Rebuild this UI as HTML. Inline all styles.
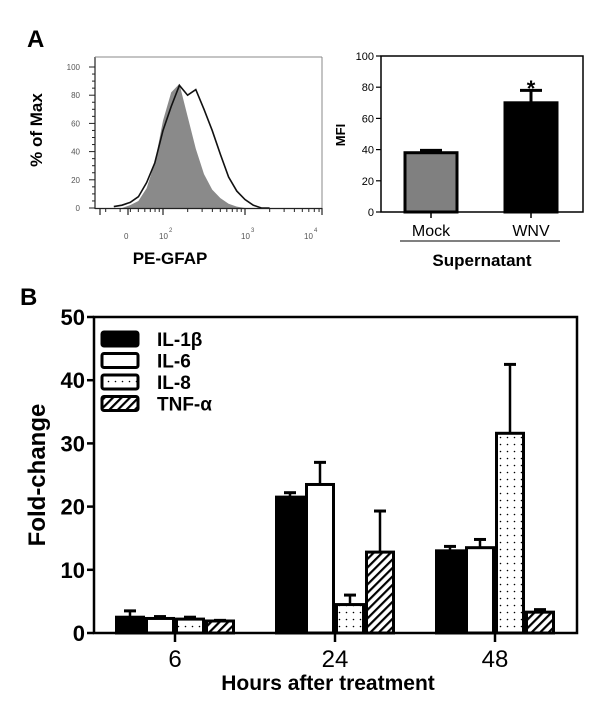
<!DOCTYPE html>
<html><head><meta charset="utf-8"><style>
html,body{margin:0;padding:0;background:#fff}
svg{display:block;font-family:"Liberation Sans",sans-serif}
</style></head><body>
<svg id="fig" width="600" height="720" viewBox="0 0 600 720">
<defs>
<pattern id="dots" width="7" height="7" patternUnits="userSpaceOnUse"><rect width="7" height="7" fill="#fff"/><circle cx="3.5" cy="3.5" r="0.8" fill="#000"/></pattern>
<pattern id="hatch" width="6" height="6" patternUnits="userSpaceOnUse" patternTransform="rotate(45)"><rect width="6" height="6" fill="#fff"/><rect width="2.2" height="6" fill="#000"/></pattern>
</defs>
<text x="27" y="47" font-size="24" font-weight="bold">A</text>
<text x="20" y="305" font-size="24" font-weight="bold">B</text>
<g id="hist"></g>
<g id="mfi"></g>
<g id="fold"></g>
</svg>
<script>
// ---------- histogram data ----------
const histLog = [1.4,1.5,1.6,1.7,1.8,1.9,2.0,2.1,2.2,2.3,2.4,2.5,2.6,2.7,2.8,2.9,3.0,3.1,3.2,3.3];
const histMock = [0,0,2,5,14,32,62,82,88,65,42,24,13,7,3,1,0,0,0,0];
const histWnv = [1,2,4,8,18,32,55,72,87,80,84,70,55,38,22,12,6,2,0,0];
const histYTicks = [0,20,40,60,80,100];
// ---------- MFI data ----------
const mfiCats = ["Mock","WNV"];
const mfiVals = [38,70];
const mfiErr = [39.5,78];
const mfiTicks = [0,20,40,60,80,100];
// ---------- fold change data ----------
const hours = ["6","24","48"];
const seriesNames = ["IL-1β","IL-6","IL-8","TNF-α"];
const il1b = [2.5,21.5,13];
const il6 = [2.3,23.5,13.5];
const il8 = [2.2,4.5,31.6];
const tnf = [1.9,12.8,3.3];
const il1bErr = [3.5,22.2,13.7];
const il6Err = [2.6,27,14.8];
const il8Err = [2.5,6,42.5];
const tnfErr = [2.0,19.3,3.7];
const foldTicks = [0,10,20,30,40,50];

const NS="http://www.w3.org/2000/svg";
function mk(parent,tag,attrs,text){const e=document.createElementNS(NS,tag);for(const k in attrs)e.setAttribute(k,attrs[k]);if(text!==undefined)e.textContent=text;parent.appendChild(e);return e;}

// ===== Histogram =====
(function(){
const g=document.getElementById('hist');
const x=l=>163+(l-2)*82, y=v=>208-v*1.41;
let d='M'+x(histLog[0])+' '+y(0);
histLog.forEach((l,i)=>{d+=' L'+x(l)+' '+y(histMock[i]);});
d+=' L'+x(histLog[histLog.length-1])+' '+y(0)+' Z';
const a=mk(g,'path',{d:d,fill:'#8a8a8a',stroke:'none'});


let d2='';
histLog.forEach((l,i)=>{d2+=(i?' L':'M')+x(l)+' '+y(histWnv[i]);});
const b=mk(g,'path',{d:d2,fill:'none',stroke:'#111','stroke-width':1.6});


mk(g,'line',{x1:95,y1:57,x2:95,y2:209,stroke:'#222','stroke-width':1.2});
mk(g,'line',{x1:95,y1:57,x2:322,y2:57,stroke:'#888','stroke-width':1});
mk(g,'line',{x1:322,y1:57,x2:322,y2:209,stroke:'#888','stroke-width':1});
mk(g,'line',{x1:95,y1:208.5,x2:322,y2:208.5,stroke:'#222','stroke-width':1.2});
histYTicks.forEach(t=>{
  mk(g,'line',{x1:89,y1:y(t),x2:95,y2:y(t),stroke:'#222'});
  const lb=mk(g,'text',{x:80,y:y(t)+3,'font-size':8,'text-anchor':'end',fill:'#555'},t);
  
  
});
for(let v=5;v<100;v+=5){if(v%20)mk(g,'line',{x1:92,y1:y(v),x2:95,y2:y(v),stroke:'#222'});}
[100,128,163,245,322].forEach(px=>mk(g,'line',{x1:px,y1:208,x2:px,y2:215,stroke:'#222','stroke-width':1.2}));
for(let dec=1;dec<=3;dec++){for(let m=2;m<10;m++){const px=163+(dec-2+Math.log10(m))*82;if(px>100&&px<322)mk(g,'line',{x1:px,y1:208,x2:px,y2:212,stroke:'#222'});}}
[[124,'0'],[159,'10'],[241,'10'],[304,'10']].forEach((p,i)=>{
  const t=mk(g,'text',{x:p[0],y:239,'font-size':8,fill:'#555'},p[1]);
  
  
  if(i>0)mk(g,'text',{x:p[0]+10,y:232,'font-size':6,fill:'#555'},['','2','3','4'][i]);
});
const yl=mk(g,'text',{x:0,y:0,'font-size':17,'font-weight':'bold','text-anchor':'middle',transform:'translate(42,130) rotate(-90)'},'% of Max');


const xl=mk(g,'text',{x:170,y:264,'font-size':17,'font-weight':'bold','text-anchor':'middle'},'PE-GFAP');


})();

// ===== MFI =====
(function(){
const g=document.getElementById('mfi');
const y=v=>212-v*1.56;
const cx=[431,531], bw=52, fills=['#808080','#000'];
mk(g,'rect',{x:381,y:56,width:202,height:156,fill:'none',stroke:'#000','stroke-width':1.5});
mfiTicks.forEach(t=>{
  mk(g,'line',{x1:376,y1:y(t),x2:381,y2:y(t),stroke:'#000','stroke-width':1.2});
  const lb=mk(g,'text',{x:374,y:y(t)+4,'font-size':11,'text-anchor':'end'},t);
  
  
});
mfiCats.forEach((c,i)=>{
  const r=mk(g,'rect',{x:cx[i]-bw/2,y:y(mfiVals[i]),width:bw,height:y(0)-y(mfiVals[i]),fill:fills[i],stroke:'#000','stroke-width':3});
  
  
  mk(g,'line',{x1:cx[i],y1:y(mfiVals[i]),x2:cx[i],y2:y(mfiErr[i]),stroke:'#000','stroke-width':3});
  mk(g,'line',{x1:cx[i]-11,y1:y(mfiErr[i]),x2:cx[i]+11,y2:y(mfiErr[i]),stroke:'#000','stroke-width':3});
  mk(g,'line',{x1:cx[i],y1:212,x2:cx[i],y2:218,stroke:'#000','stroke-width':1.5});
  const lb=mk(g,'text',{x:cx[i],y:236,'font-size':16,'text-anchor':'middle'},c);
  
  
});
const st=mk(g,'text',{x:531,y:96,'font-size':22,'font-weight':'bold','text-anchor':'middle'},'*');


mk(g,'line',{x1:400,y1:241,x2:560,y2:241,stroke:'#000','stroke-width':1});
const xl=mk(g,'text',{x:482,y:266,'font-size':17,'font-weight':'bold','text-anchor':'middle'},'Supernatant');


const yl=mk(g,'text',{x:0,y:0,'font-size':13,'font-weight':'bold','text-anchor':'middle',transform:'translate(345,135) rotate(-90)'},'MFI');


})();

// ===== Fold change =====
(function(){
const g=document.getElementById('fold');
const y=v=>633-v*6.32;
const gx=[175,335,495], bw=30;
const vals=[il1b,il6,il8,tnf], errs=[il1bErr,il6Err,il8Err,tnfErr];
const fills=['#000','#fff','url(#dots)','url(#hatch)'];
const keys=['il1b','il6','il8','tnf'];
mk(g,'rect',{x:94,y:317,width:483,height:316,fill:'none',stroke:'#000','stroke-width':2.5});
foldTicks.forEach(t=>{
  mk(g,'line',{x1:87,y1:y(t),x2:94,y2:y(t),stroke:'#000','stroke-width':2.5});
  const lb=mk(g,'text',{x:85,y:y(t)+8,'font-size':22,'font-weight':'bold','text-anchor':'end'},t);
  
  
});
hours.forEach((h,gi)=>{
  mk(g,'line',{x1:gx[gi],y1:633,x2:gx[gi],y2:642,stroke:'#000','stroke-width':2.5});
  const lb=mk(g,'text',{x:gx[gi],y:667,'font-size':24,'text-anchor':'middle'},h);
  
  
  for(let s=0;s<4;s++){
    const bx=gx[gi]-2*bw+s*bw, v=vals[s][gi], e=errs[s][gi];
    mk(g,'line',{x1:bx+bw/2,y1:y(v),x2:bx+bw/2,y2:y(e),stroke:'#000','stroke-width':2.5});
    mk(g,'line',{x1:bx+bw/2-6,y1:y(e),x2:bx+bw/2+6,y2:y(e),stroke:'#000','stroke-width':3});
    const r=mk(g,'rect',{x:bx+1.5,y:y(v),width:bw-3,height:y(0)-y(v),fill:fills[s],stroke:'#000','stroke-width':3});
    
    
  }
});
seriesNames.forEach((n,s)=>{
  const ly=331+s*21.5;
  const sw=mk(g,'rect',{x:102,y:ly+1,width:36,height:14,rx:2,fill:fills[s],stroke:'#000','stroke-width':3});
  
  
  const t=mk(g,'text',{x:157,y:ly+15,'font-size':19,'font-weight':'bold'},n);
  
  
});
const xl=mk(g,'text',{x:328,y:690,'font-size':21,'font-weight':'bold','text-anchor':'middle'},'Hours after treatment');


const yl=mk(g,'text',{x:0,y:0,'font-size':24,'font-weight':'bold','text-anchor':'middle',transform:'translate(45,475) rotate(-90)'},'Fold-change');


})();
</script>
</body></html>
